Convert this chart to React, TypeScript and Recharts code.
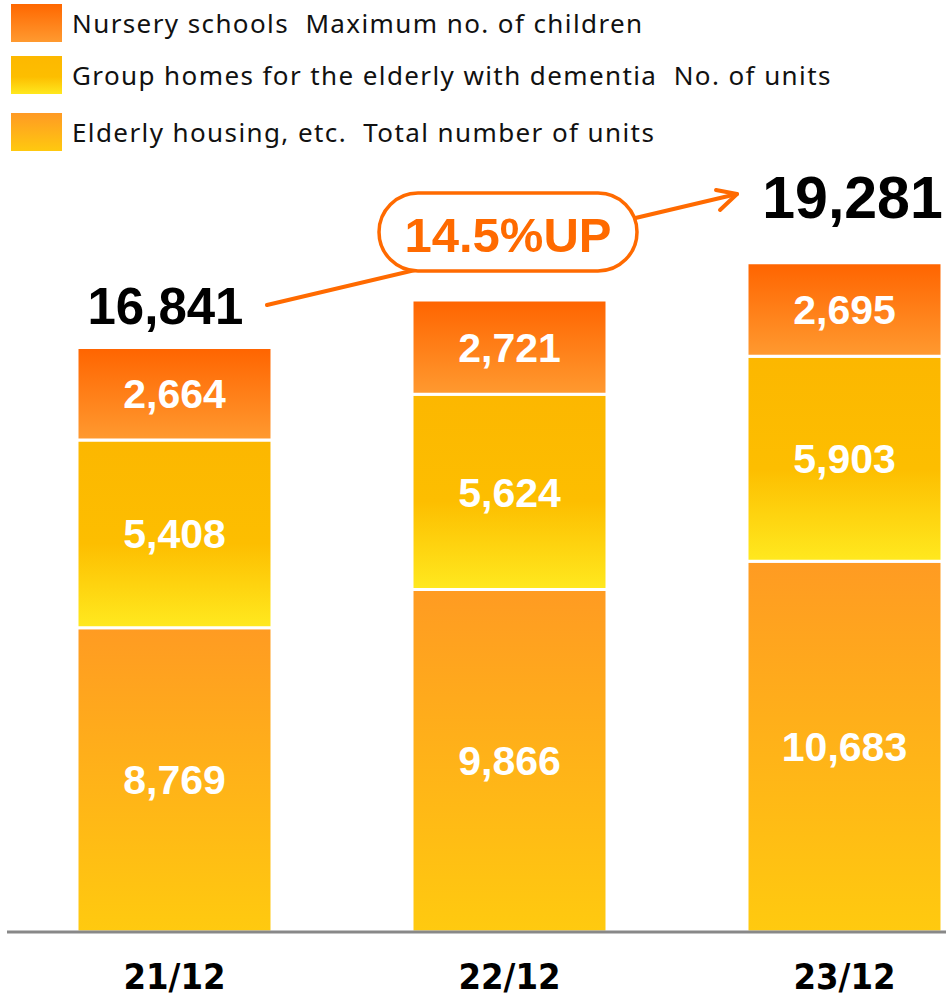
import { BarChart, Bar, XAxis, YAxis, LabelList } from "recharts"

const periods = ["21/12", "22/12", "23/12"]
const elderlyHousing = [8769, 9866, 10683]
const groupHomes = [5408, 5624, 5903]
const nurserySchools = [2664, 2721, 2695]
const growthLabel = "14.5%UP"

const legendItems = [
  { name: "Nursery schools  Maximum no. of children", grad: "gradNursery" },
  { name: "Group homes for the elderly with dementia  No. of units", grad: "gradGroup" },
  { name: "Elderly housing, etc.  Total number of units", grad: "gradElderly" },
]

const fmt = (v: number) => v.toLocaleString("en-US")

const data = periods.map((p, i) => ({
  period: p,
  elderly: elderlyHousing[i],
  group: groupHomes[i],
  nursery: nurserySchools[i],
  total: elderlyHousing[i] + groupHomes[i] + nurserySchools[i],
}))

const swatchBg: Record<string, string> = {
  gradNursery: "linear-gradient(#ff6700, #ff9a30)",
  gradGroup: "linear-gradient(#fdb800 0%, #fdbe00 55%, #ffe81e 100%)",
  gradElderly: "linear-gradient(#ff9a24, #ffc90f)",
}

const numFont = "'Liberation Sans', Arial, sans-serif"

// which totals are shown above the bars, and how big
const totalStyle: Record<number, { size: number; dx: number; dy: number }> = {
  0: { size: 51, dx: -9, dy: -23 },
  2: { size: 59, dx: 8, dy: -45 },
}

const TotalLabel = (props: any) => {
  const { x, y, width, index, value } = props
  const s = totalStyle[index]
  if (!s) return null
  return (
    <text
      x={x + width / 2 + s.dx}
      y={y + s.dy}
      textAnchor="middle"
      fontFamily={numFont}
      fontWeight="bold"
      fontSize={s.size}
      fill="#000"
    >
      {fmt(value)}
    </text>
  )
}

const PeriodTick = (props: any) => {
  const { x, y, payload } = props
  return (
    <text
      x={x}
      y={y + 57}
      textAnchor="middle"
      fontFamily="'DejaVu Sans Condensed', 'DejaVu Sans', sans-serif"
      fontStretch="condensed"
      fontWeight="bold"
      fontSize={36}
      fill="#000"
    >
      {payload.value}
    </text>
  )
}

const segLabel = {
  position: "center" as const,
  fill: "#fff",
  fontSize: 41,
  fontWeight: "bold",
  fontFamily: numFont,
  formatter: (v: any) => fmt(Number(v)),
}

export default function App() {
  return (
    <div style={{ position: "absolute", left: 0, top: 0, width: 946, height: 997, overflow: "hidden", background: "#fff" }}>
      <div style={{ position: "absolute", left: 11, top: 4, fontFamily: "'Noto Sans', sans-serif", fontSize: 26, letterSpacing: 1.4, color: "#111" }}>
        {legendItems.map((it, i) => (
          <div key={it.name} style={{ display: "flex", alignItems: "center", height: 38, marginBottom: i === 0 ? 14 : 19 }}>
            <div style={{ width: 51, height: 38, background: swatchBg[it.grad], marginRight: 10 }} />
            <span style={{ whiteSpace: "pre" }}>{it.name}</span>
          </div>
        ))}
      </div>

      <BarChart
        width={1012}
        height={997}
        data={data}
        margin={{ top: 99, right: 0, bottom: 0, left: 7 }}
        barSize={195}
        style={{ position: "absolute", left: 0, top: 0 }}
      >
        <defs>
          <linearGradient id="gradNursery" x1="0" y1="0" x2="0" y2="1">
            <stop offset="0%" stopColor="#ff6400" />
            <stop offset="100%" stopColor="#ff9a30" />
          </linearGradient>
          <linearGradient id="gradGroup" x1="0" y1="0" x2="0" y2="1">
            <stop offset="0%" stopColor="#fcb700" />
            <stop offset="55%" stopColor="#fdbe00" />
            <stop offset="100%" stopColor="#ffe91f" />
          </linearGradient>
          <linearGradient id="gradElderly" x1="0" y1="0" x2="0" y2="1">
            <stop offset="0%" stopColor="#ff9b22" />
            <stop offset="100%" stopColor="#ffca0f" />
          </linearGradient>
        </defs>
        <XAxis
          dataKey="period"
          height={65}
          tickLine={false}
          tickSize={0}
          tickMargin={0}
          axisLine={{ stroke: "#888", strokeWidth: 3 }}
          tick={<PeriodTick />}
        />
        <YAxis hide domain={[0, 24000]} />
        <Bar dataKey="elderly" stackId="a" fill="url(#gradElderly)" stroke="#fff" strokeWidth={3} isAnimationActive={false}>
          <LabelList dataKey="elderly" {...segLabel} />
        </Bar>
        <Bar dataKey="group" stackId="a" fill="url(#gradGroup)" stroke="#fff" strokeWidth={3} isAnimationActive={false}>
          <LabelList dataKey="group" {...segLabel} />
        </Bar>
        <Bar dataKey="nursery" stackId="a" fill="url(#gradNursery)" stroke="#fff" strokeWidth={3} isAnimationActive={false}>
          <LabelList dataKey="nursery" {...segLabel} />
          <LabelList dataKey="total" content={<TotalLabel />} />
        </Bar>
      </BarChart>

      {/* growth callout */}
      <svg width={946} height={997} style={{ position: "absolute", left: 0, top: 0, pointerEvents: "none" }}>
        <line x1={267} y1={305} x2={737} y2={194} stroke="#ff6a00" strokeWidth={4} strokeLinecap="round" />
        <polyline points="716,190 737,194 720,210" fill="none" stroke="#ff6a00" strokeWidth={4} strokeLinecap="round" strokeLinejoin="round" />
        <rect x={379} y={193} width={258} height={78} rx={39} fill="#fff" stroke="#ff6a00" strokeWidth={3.5} />
        <text x={508} y={252} textAnchor="middle" fontFamily={numFont} fontWeight="bold" fontSize={49} fill="#ff6a00">
          {growthLabel}
        </text>
      </svg>
    </div>
  )
}
